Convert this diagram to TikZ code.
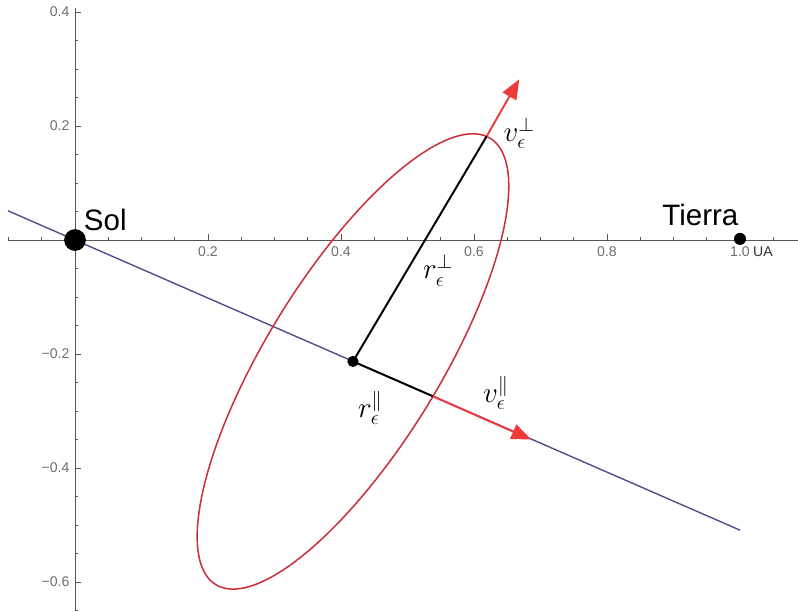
\documentclass[tikz,border=0pt]{standalone}
\usepackage{fontspec}
\setsansfont{Liberation Sans}
\usetikzlibrary{arrows.meta}

\definecolor{axisgray}{HTML}{555555}
\definecolor{lblgray}{HTML}{6E6E6E}
\definecolor{lineblue}{HTML}{4E4E8E}
\definecolor{vecred}{HTML}{EE3A3A}
\definecolor{orbitred}{HTML}{C8323C}

\begin{document}
\begin{tikzpicture}[
    x=16.625cm, y=14.25cm,
    axis/.style={line width=.7pt, draw=axisgray},
    tickmark/.style={line width=.5pt, draw=axisgray},
    ticklbl/.style={font=\sffamily\fontsize{10}{12}\selectfont, text=lblgray, inner sep=1pt},
    body/.style={font=\sffamily\fontsize{21}{24}\selectfont, inner sep=0pt},
    mlbl/.style={font=\fontsize{20}{24}\selectfont, inner sep=0pt},
    dot/.style={circle, fill=black, inner sep=0pt},
    sunline/.style={line width=1pt, draw=lineblue},
    orbit/.style={line width=1.1pt, draw=orbitred},
    radius/.style={line width=1.4pt, draw=black},
    vec/.style={line width=1.4pt, draw=vecred, -{Triangle[length=14pt, width=11pt]}},
  ]
  \useasboundingbox (-0.1128,-0.6509) rectangle (1.0872,0.4211);

  %% axes with Mathematica-like ticks
  \draw[axis] (-0.1008,0) -- (1.0872,0);
  \draw[axis] (0,0.407) -- (0,-0.6509);
  \foreach \i in {-2,...,21}{
    \draw[tickmark] (\i*0.05,0) -- ++(0,0.0053);
  }
  \foreach \i in {-13,...,8}{
    \draw[tickmark] (0,\i*0.05) -- ++(0.0045,0);
  }
  \foreach \t in {0.2,0.4,0.6,0.8}{
    \draw[tickmark] (\t,0) -- ++(0,0.0105);
    \node[ticklbl, anchor=north] at (\t,-0.008) {\t};
  }
  \draw[tickmark] (1,0) -- ++(0,0.0105);
  \node[ticklbl, anchor=north] (unolbl) at (1,-0.008) {1.0};
  \node[ticklbl, text=black!80, anchor=base west] at (unolbl.base east) {UA};
  \foreach \t/\s in {0.4/0.4, 0.2/0.2, -0.2/−0.2, -0.4/−0.4, -0.6/−0.6}{
    \draw[tickmark] (0,\t) -- ++(0.009,0);
    \node[ticklbl, anchor=east] at (-0.006,\t) {\s};
  }

  %% line through the Sun and the orbit
  \coordinate (lineA) at (-0.1008,0.0513);
  \coordinate (lineB) at (1.0,-0.509);
  \draw[sunline] (lineA) -- (lineB);
  \draw[orbit] plot[domain=0:360, samples=145, variable=\t]
    ({0.418+0.1203*cos(\t)+0.2011*sin(\t)}, {-0.213-0.0613*cos(\t)+0.3947*sin(\t)}) -- cycle;

  %% components of position and velocity
  \coordinate (pperp) at (0.619,0.182);
  \coordinate (ppar) at (0.538,-0.274);
  \coordinate (vperp) at (0.668,0.282);
  \coordinate (vpar) at (0.686,-0.350);
  \node[dot, minimum size=8pt] (centro) at (0.418,-0.213) {};
  \draw[radius] (centro.center) -- (pperp);
  \draw[radius] (centro.center) -- (ppar);
  \draw[vec] (pperp) -- (vperp);
  \draw[vec] (ppar) -- (vpar);

  %% bodies
  \node[dot, minimum size=15.5pt] (sol) at (0,0) {};
  \node[dot, minimum size=8.6pt] (tierra) at (1.0,0.002) {};
  \node[body, anchor=base west] at (0.013,0.017) {Sol};
  \node[body, anchor=base east] at (0.998,0.026) {Tierra};

  %% labels
  \node[mlbl] at (0.668,0.188) {$v_\epsilon^\perp$};
  \node[mlbl] at (0.546,-0.053) {$r_\epsilon^\perp$};
  \node[mlbl] at (0.444,-0.295) {$r_\epsilon^\parallel$};
  \node[mlbl] at (0.633,-0.268) {$v_\epsilon^\parallel$};
\end{tikzpicture}
\end{document}
